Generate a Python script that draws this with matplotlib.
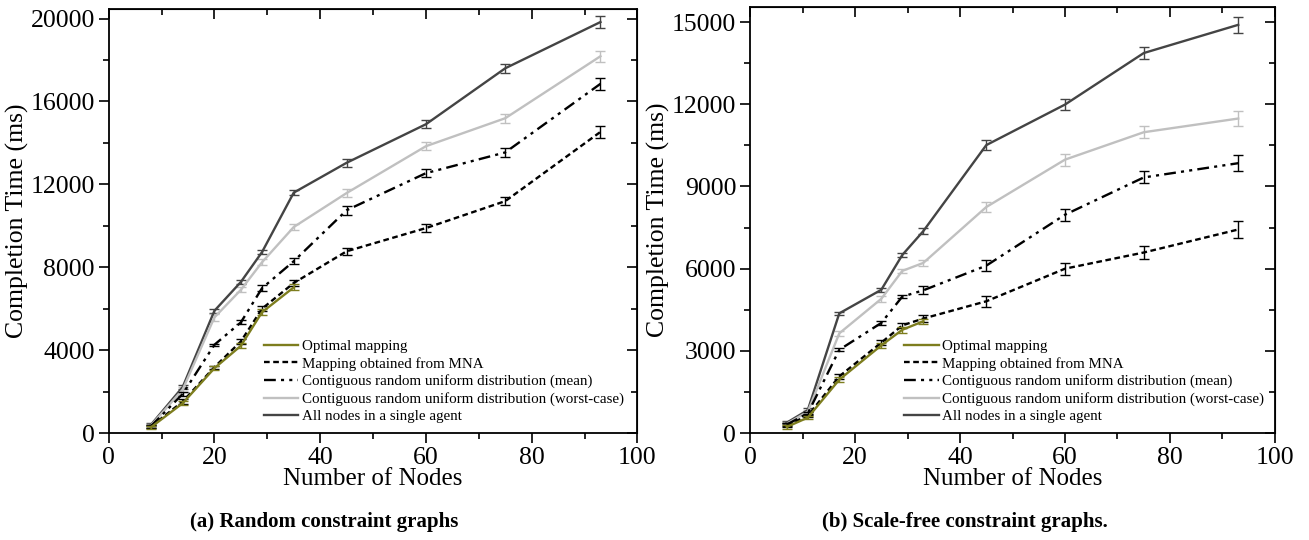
import numpy as np
import matplotlib
matplotlib.use('Agg')
import matplotlib.pyplot as plt
from matplotlib.lines import Line2D
from matplotlib.ticker import MultipleLocator

plt.rcParams['font.family'] = ['Liberation Serif', 'DejaVu Serif']

# ---- (a) random constraint graphs ----
x_a = [8, 14, 20, 25, 29, 35, 45, 60, 75, 93]
x_a_opt = [8, 14, 20, 25, 29, 35]
opt_a = [280, 1440, 3130, 4210, 5830, 7030]
opt_a_err = [80, 100, 100, 120, 150, 150]
mna_a = [315, 1520, 3180, 4420, 6000, 7240, 8770, 9890, 11190, 14530]
mna_a_err = [80, 100, 80, 100, 120, 150, 180, 180, 200, 290]
mean_a = [330, 1890, 4260, 5340, 6990, 8290, 10750, 12540, 13540, 16850]
mean_a_err = [80, 100, 60, 100, 150, 150, 220, 200, 200, 280]
worst_a = [365, 2100, 5580, 6910, 8240, 9940, 11580, 13840, 15190, 18180]
worst_a_err = [80, 100, 150, 120, 150, 150, 200, 200, 220, 270]
all_a = [400, 2220, 5900, 7290, 8730, 11600, 13040, 14900, 17600, 19830]
all_a_err = [80, 80, 100, 100, 100, 120, 180, 200, 220, 280]

# ---- (b) scale-free constraint graphs ----
x_b = [7, 11, 17, 25, 29, 33, 45, 60, 75, 93]
x_b_opt = [7, 11, 17, 25, 29, 33]
opt_b = [225, 565, 1950, 3200, 3770, 4080]
opt_b_err = [60, 60, 80, 100, 100, 100]
mna_b = [290, 630, 2070, 3300, 3930, 4180, 4810, 6000, 6590, 7430]
mna_b_err = [60, 60, 80, 100, 80, 120, 200, 220, 220, 300]
mean_b = [310, 720, 3040, 4020, 4980, 5210, 6110, 7970, 9330, 9850]
mean_b_err = [60, 60, 60, 60, 60, 150, 200, 220, 220, 290]
worst_b = [340, 780, 3640, 4900, 5920, 6210, 8250, 9980, 10980, 11480]
worst_b_err = [60, 80, 80, 100, 80, 120, 180, 220, 220, 280]
all_b = [380, 840, 4370, 5230, 6500, 7370, 10510, 11990, 13870, 14900]
all_b_err = [60, 80, 60, 80, 80, 120, 180, 200, 220, 290]

LABELS = ['Optimal mapping',
          'Mapping obtained from MNA',
          'Contiguous random uniform distribution (mean)',
          'Contiguous random uniform distribution (worst-case)',
          'All nodes in a single agent']
C_OPT = '#7d7d1e'
C_WORST = '#c0c0c0'
C_ALL = '#444444'
LW = 1.7
DASH_MNA = (2.4, 1.5)
DASH_MEAN = (5, 2.2, 1.3, 2.2, 1.3, 2.2)


def minor_major(axis, major):
    axis.set_major_locator(MultipleLocator(major))
    axis.set_minor_locator(MultipleLocator(major / 2))


def draw(ax, x, xo, opt, opte, mna, mnae, mean, meane, worst, worste, alln, allne):
    kw = dict(lw=LW, capsize=3.5, elinewidth=1.0, capthick=1.0)
    ax.errorbar(x, alln, yerr=allne, color=C_ALL, zorder=3, **kw)
    ax.errorbar(x, worst, yerr=worste, color=C_WORST, zorder=3, **kw)
    ax.errorbar(x, mean, yerr=meane, color='black', zorder=4, dashes=DASH_MEAN, **kw)
    ax.errorbar(x, mna, yerr=mnae, color='black', zorder=4, dashes=DASH_MNA, **kw)
    ax.errorbar(xo, opt, yerr=opte, color=C_OPT, zorder=5, **kw)

    ax.set_xlim(0, 100)
    minor_major(ax.xaxis, 20)
    ax.set_xlabel('Number of Nodes', fontsize=18, labelpad=-1)
    ax.set_ylabel('Completion Time (ms)', fontsize=18.5, labelpad=1)
    ax.tick_params(which='both', direction='out', top=False, right=False,
                   labelsize=18.5, width=1.2, pad=3)
    ax.tick_params(which='major', length=7)
    ax.tick_params(which='minor', length=4)
    for sp in ax.spines.values():
        sp.set_linewidth(1.3)
    # inward ticks on the mirrored top axis
    sx = ax.secondary_xaxis('top')
    minor_major(sx.xaxis, 20)
    sx.tick_params(which='both', direction='in', labeltop=False, width=1.2)
    sx.tick_params(which='major', length=7)
    sx.tick_params(which='minor', length=4)

    handles = [Line2D([0], [0], color=C_OPT, lw=LW),
               Line2D([0], [0], color='black', lw=LW, dashes=DASH_MNA),
               Line2D([0], [0], color='black', lw=LW, dashes=DASH_MEAN),
               Line2D([0], [0], color=C_WORST, lw=LW),
               Line2D([0], [0], color=C_ALL, lw=LW)]
    ax.legend(handles, LABELS, loc='lower left', bbox_to_anchor=(0.275, 0.0),
              frameon=False, fontsize=10.8, handlelength=2.3, labelspacing=0.25,
              handletextpad=0.25, borderaxespad=0.25)


fig = plt.figure(figsize=(13.09, 5.40), dpi=100)
ax1 = fig.add_axes([0.083, 0.198, 0.404, 0.785])
ax2 = fig.add_axes([0.573, 0.198, 0.401, 0.789])

draw(ax1, x_a, x_a_opt, opt_a, opt_a_err, mna_a, mna_a_err, mean_a, mean_a_err,
     worst_a, worst_a_err, all_a, all_a_err)
ax1.set_ylim(0, 20450)
minor_major(ax1.yaxis, 4000)

draw(ax2, x_b, x_b_opt, opt_b, opt_b_err, mna_b, mna_b_err, mean_b, mean_b_err,
     worst_b, worst_b_err, all_b, all_b_err)
ax2.set_ylim(0, 15550)
minor_major(ax2.yaxis, 3000)

for ax, step in ((ax1, 4000), (ax2, 3000)):
    sy = ax.secondary_yaxis('right')
    minor_major(sy.yaxis, step)
    sy.tick_params(which='both', direction='in', labelright=False, width=1.2)
    sy.tick_params(which='major', length=7)
    sy.tick_params(which='minor', length=4)

fig.text(0.248, 0.025, '(a) Random constraint graphs', ha='center',
         fontsize=15, fontweight='bold')
fig.text(0.737, 0.025, '(b) Scale-free constraint graphs.', ha='center',
         fontsize=15, fontweight='bold')

fig.savefig('out.png', dpi=100)
